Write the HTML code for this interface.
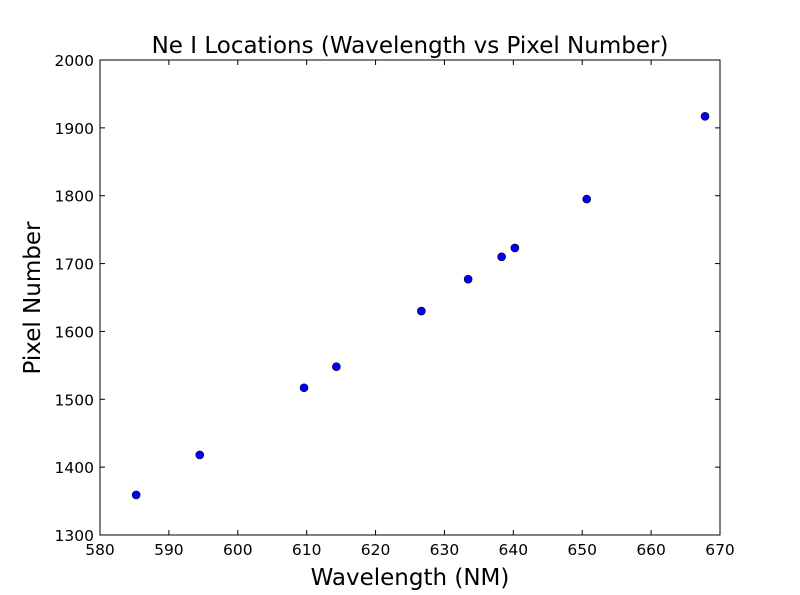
<!DOCTYPE html>
<html><head><meta charset="utf-8"><style>
html,body{margin:0;padding:0;background:#fff;}
svg{display:block;font-family:"DejaVu Sans","Liberation Sans",sans-serif;}
</style></head><body>
<svg id="chart" width="800" height="595" viewBox="0 0 800 595">
<rect x="0" y="0" width="800" height="595" fill="#fff"/>
<text x="410" y="53" font-size="23" text-anchor="middle">Ne I Locations (Wavelength vs Pixel Number)</text>
<text x="410" y="585" font-size="23" text-anchor="middle">Wavelength (NM)</text>
<text x="40" y="298" font-size="23" text-anchor="middle" transform="rotate(-90 40 298)">Pixel Number</text>
<g id="ticks"></g>
<g id="points"></g>
<rect x="100" y="60" width="620" height="475" fill="none" stroke="#000" stroke-width="1"/>
</svg>
<script>
const wavelengths = [585.25, 594.48, 609.62, 614.31, 626.65, 633.44, 638.30, 640.22, 650.65, 667.83];
const pixels = [1359, 1418, 1517, 1548, 1630, 1677, 1710, 1723, 1795, 1917];
const xTicks = [580, 590, 600, 610, 620, 630, 640, 650, 660, 670];
const yTicks = [1300, 1400, 1500, 1600, 1700, 1800, 1900, 2000];

const X0 = 100, X1 = 720, Y0 = 535, Y1 = 60;
const xMin = 580, xMax = 670, yMin = 1300, yMax = 2000;
function sx(v){ return X0 + (v - xMin) / (xMax - xMin) * (X1 - X0); }
function sy(v){ return Y0 - (v - yMin) / (yMax - yMin) * (Y0 - Y1); }
const NS = "http://www.w3.org/2000/svg";
const tg = document.getElementById('ticks');
const pg = document.getElementById('points');
function mk(tag, attrs){ const e = document.createElementNS(NS, tag); for (const k in attrs) e.setAttribute(k, attrs[k]); return e; }

xTicks.forEach(t => {
  const x = sx(t);
  const a = mk('line', {x1:x, y1:Y0, x2:x, y2:Y0-5, stroke:'#000'});
  
  
  tg.appendChild(a);
  const b = mk('line', {x1:x, y1:Y1, x2:x, y2:Y1+5, stroke:'#000'});
  
  
  tg.appendChild(b);
  const l = mk('text', {x:x, y:Y0+20, 'font-size':15.5, 'text-anchor':'middle'});
  l.textContent = t;
  
  
  tg.appendChild(l);
});
yTicks.forEach(t => {
  const y = sy(t);
  const a = mk('line', {x1:X0, y1:y, x2:X0+5, y2:y, stroke:'#000'});
  
  
  tg.appendChild(a);
  const b = mk('line', {x1:X1, y1:y, x2:X1-5, y2:y, stroke:'#000'});
  
  
  tg.appendChild(b);
  const l = mk('text', {x:X0-6, y:y+6, 'font-size':15.5, 'text-anchor':'end'});
  l.textContent = t;
  
  
  tg.appendChild(l);
});
wavelengths.forEach((w, i) => {
  const c = mk('circle', {cx:sx(w), cy:sy(pixels[i]), r:4, fill:'#0000ff', stroke:'#000', 'stroke-width':0.6});
  
  
  pg.appendChild(c);
});
</script>
</body></html>
